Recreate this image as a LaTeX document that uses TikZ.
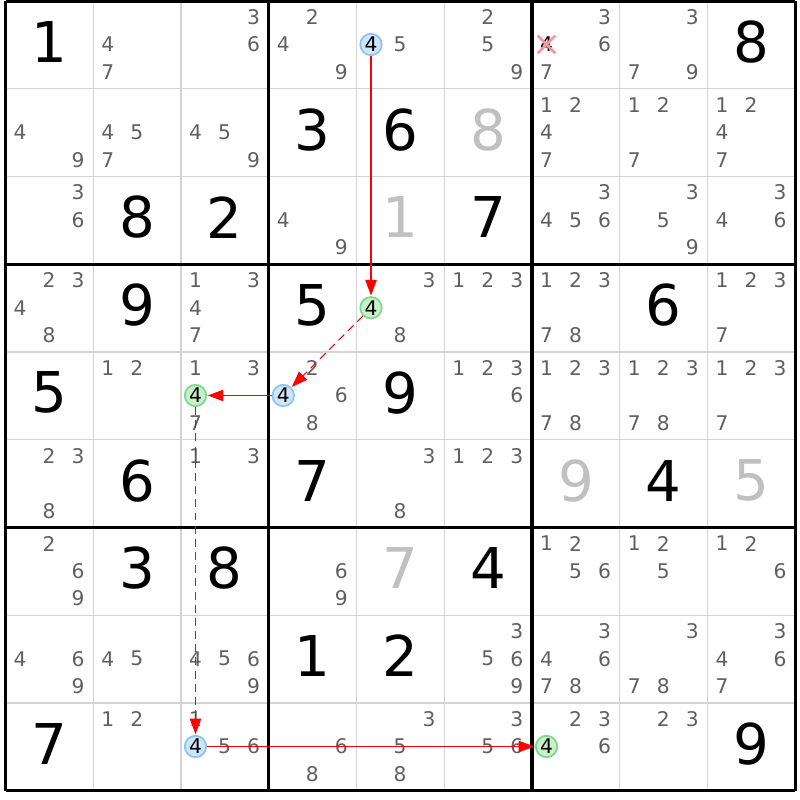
\documentclass[tikz,border=0pt]{standalone}
\usepackage{fontspec}
\setmainfont{DejaVu Sans}
\usepackage{xcolor}
\usepackage{tikz}
\usetikzlibrary{arrows.meta,shapes.misc}
\definecolor{candgray}{RGB}{95,95,95}
\definecolor{solvedgray}{RGB}{192,192,192}
\definecolor{thingrid}{RGB}{211,211,211}
\definecolor{bluefill}{RGB}{207,229,250}
\definecolor{blueline}{RGB}{140,196,245}
\definecolor{greenfill}{RGB}{200,240,205}
\definecolor{greenline}{RGB}{125,215,140}
\definecolor{crosscol}{RGB}{245,150,165}
\definecolor{linkred}{RGB}{255,0,0}

\begin{document}
\begin{tikzpicture}[x=0.02cm,y=-0.02cm,
	gridline/.style={draw=thingrid,line width=0.8pt},
	boxline/.style={draw=black,line width=1.8pt},
	cand/.style={text=candgray,font=\fontsize{11.5}{12}\selectfont,inner sep=0pt},
	given/.style={font=\fontsize{32}{34}\selectfont,inner sep=0pt},
	solved/.style={given,text=solvedgray},
	hl/.style={circle,draw=#1line,fill=#1fill,line width=1pt,minimum size=0.43cm,inner sep=0pt,font=\fontsize{11.5}{12}\selectfont},
	struck/.style={cross out,draw=crosscol,line width=1.5pt,minimum size=0.3cm,inner sep=0pt,font=\fontsize{11.5}{12}\selectfont},
	link/.style={->,>={Triangle[length=9pt,width=6.5pt]},draw=linkred,fill=linkred,line width=0.6pt,shorten >=0.3pt}]
	\useasboundingbox (0,0) rectangle (800,800);

	\foreach \i in {0,...,9} {
		\draw[gridline] ({5.5+\i*87.75},1) -- ({5.5+\i*87.75},790.75);
		\draw[gridline] (5.5,{1+\i*87.75}) -- (795.25,{1+\i*87.75});
	}
	\foreach \i in {0,3,6,9} {
		\draw[boxline] ({5.5+\i*87.75},1) -- ({5.5+\i*87.75},790.75);
		\draw[boxline] (5.5,{1+\i*87.75}) -- (795.25,{1+\i*87.75});
	}

	\foreach \r/\c/\s/\n in {0/4/blue/b1, 3/4/green/g1, 4/3/blue/b2, 4/2/green/g2, 8/2/blue/b3, 8/6/green/g3}
		\node[hl=\s] (\n) at ({5.5+\c*87.75+14.5},{1+\r*87.75+43.5}) {4};
	\node[struck] (x1) at ({5.5+6*87.75+14.5},{1+0*87.75+43.5}) {4};

	\foreach \r/\c/\ds in {0/1/{4,7}, 0/2/{3,6}, 0/3/{2,4,9}, 0/4/{5}, 0/5/{2,5,9}, 0/6/{3,6,7}, 0/7/{3,7,9},
			1/0/{4,9}, 1/1/{4,5,7}, 1/2/{4,5,9}, 1/6/{1,2,4,7}, 1/7/{1,2,7}, 1/8/{1,2,4,7},
			2/0/{3,6}, 2/3/{4,9}, 2/6/{3,4,5,6}, 2/7/{3,5,9}, 2/8/{3,4,6},
			3/0/{2,3,4,8}, 3/2/{1,3,4,7}, 3/4/{3,8}, 3/5/{1,2,3}, 3/6/{1,2,3,7,8}, 3/8/{1,2,3,7},
			4/1/{1,2}, 4/2/{1,3,7}, 4/3/{2,6,8}, 4/5/{1,2,3,6}, 4/6/{1,2,3,7,8}, 4/7/{1,2,3,7,8}, 4/8/{1,2,3,7},
			5/0/{2,3,8}, 5/2/{1,3}, 5/4/{3,8}, 5/5/{1,2,3},
			6/0/{2,6,9}, 6/3/{6,9}, 6/6/{1,2,5,6}, 6/7/{1,2,5}, 6/8/{1,2,6},
			7/0/{4,6,9}, 7/1/{4,5}, 7/2/{4,5,6,9}, 7/5/{3,5,6,9}, 7/6/{3,4,6,7,8}, 7/7/{3,7,8}, 7/8/{3,4,6,7},
			8/1/{1,2}, 8/2/{1,5,6}, 8/3/{6,8}, 8/4/{3,5,8}, 8/5/{3,5,6}, 8/6/{2,3,6}, 8/7/{2,3}}
		\foreach \d in \ds
			\node[cand] (k\r\c\d) at ({5.5+\c*87.75+14.5+29*mod(\d-1,3)},{1+\r*87.75+16+27.5*floor((\d-0.5)/3)}) {\d};

	\foreach \r/\c/\d in {0/0/1, 0/8/8, 1/3/3, 1/4/6, 2/1/8, 2/2/2, 2/5/7, 3/1/9, 3/3/5, 3/7/6, 4/0/5, 4/4/9,
			5/1/6, 5/3/7, 5/7/4, 6/1/3, 6/2/8, 6/5/4, 7/3/1, 7/4/2, 8/0/7, 8/8/9}
		\node[given] (n\r\c) at ({5.5+(\c+0.5)*87.75},{1+(\r+0.5)*87.75-3}) {\d};
	\foreach \r/\c/\d in {1/5/8, 2/4/1, 5/6/9, 5/8/5, 6/4/7}
		\node[solved] (n\r\c) at ({5.5+(\c+0.5)*87.75},{1+(\r+0.5)*87.75-3}) {\d};

	\draw[link] (b1) edge (g1)
		(g1) edge[dashed,dash pattern=on 4.5pt off 3pt] (b2)
		(b2) edge (g2)
		(g2) edge[dashed,dash pattern=on 4.5pt off 3pt] (b3)
		(b3) edge (g3);
\end{tikzpicture}
\end{document}
